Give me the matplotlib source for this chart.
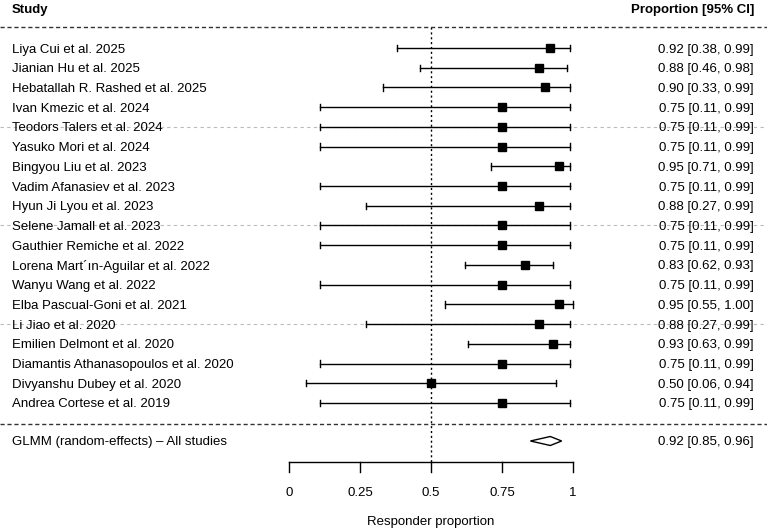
import matplotlib
matplotlib.use("Agg")
import matplotlib.pyplot as plt

studies = ["Liya Cui et al. 2025", "Jianian Hu et al. 2025", "Hebatallah R. Rashed et al. 2025",
           "Ivan Kmezic et al. 2024", "Teodors Talers et al. 2024", "Yasuko Mori et al. 2024",
           "Bingyou Liu et al. 2023", "Vadim Afanasiev et al. 2023", "Hyun Ji Lyou et al. 2023",
           "Selene Jamall et al. 2023", "Gauthier Remiche et al. 2022", "Lorena Mart\u00b4\u0131n-Aguilar et al. 2022",
           "Wanyu Wang et al. 2022", "Elba Pascual-Goni et al. 2021", "Li Jiao et al. 2020",
           "Emilien Delmont et al. 2020", "Diamantis Athanasopoulos et al. 2020", "Divyanshu Dubey et al. 2020",
           "Andrea Cortese et al. 2019"]
est = [0.92, 0.88, 0.90, 0.75, 0.75, 0.75, 0.95, 0.75, 0.88, 0.75, 0.75, 0.83, 0.75, 0.95, 0.88, 0.93, 0.75, 0.50, 0.75]
lo = [0.38, 0.46, 0.33, 0.11, 0.11, 0.11, 0.71, 0.11, 0.27, 0.11, 0.11, 0.62, 0.11, 0.55, 0.27, 0.63, 0.11, 0.06, 0.11]
hi = [0.99, 0.98, 0.99, 0.99, 0.99, 0.99, 0.99, 0.99, 0.99, 0.99, 0.99, 0.93, 0.99, 1.00, 0.99, 0.99, 0.99, 0.94, 0.99]
pooled_label = "GLMM (random-effects) \u2013 All studies"
pooled = (0.92, 0.85, 0.96)
ticks = [0, 0.25, 0.5, 0.75, 1]
tick_labels = ["0", "0.25", "0.5", "0.75", "1"]

plt.rcParams['font.family'] = ['Liberation Sans', 'DejaVu Sans']
W, H = 767, 530
fig = plt.figure(figsize=(W / 100, H / 100), dpi=100)
ax = fig.add_axes([0, 0, 1, 1])
ax.axis('off')
x0, scale = 289.0, 284.0  # pixel of 0 and pixels per unit
ax.set_xlim(-x0 / scale, (W - x0) / scale)
ax.set_ylim(H, 0)
xl, xr = ax.get_xlim()
left_txt = xl + 12 / scale
right_txt = xl + 754 / scale
fs = 9.5
dy = 1.5  # small downward text offset

row0, step = 48.0, 19.72
ys = [row0 + i * step for i in range(len(studies))]

# header
ax.text(left_txt, 9 + dy, "Study", ha='left', va='center', fontsize=fs, fontweight='bold')
ax.text(right_txt, 9 + dy, "Proportion [95% CI]", ha='right', va='center', fontsize=fs, fontweight='bold')

# separators
for ysep in (27, 424):
    ax.plot([xl, xr], [ysep, ysep], color='#333333', lw=1, ls=(0, (3, 2)))

# faint row guides every 5th row
for i in range(4, len(studies), 5):
    ax.plot([xl, xr], [ys[i], ys[i]], color='#bbbbbb', lw=0.8, ls=(0, (3, 3)), zorder=0)

# reference line
ax.plot([0.5, 0.5], [27, 462], color='black', lw=1, ls=(0, (1.5, 2)), zorder=1)

cap = 3.2
for y, s, e, l, h in zip(ys, studies, est, lo, hi):
    ax.plot([l, h], [y, y], color='black', lw=1, zorder=2)
    ax.plot([l, l], [y - cap, y + cap], color='black', lw=1, zorder=2)
    ax.plot([h, h], [y - cap, y + cap], color='black', lw=1, zorder=2)
    ax.plot([e], [y], marker='s', color='black', markersize=5.6, zorder=3)
    ax.text(left_txt, y + dy, s, ha='left', va='center', fontsize=fs)
    ax.text(right_txt, y + dy, f"{e:.2f} [{l:.2f}, {h:.2f}]", ha='right', va='center', fontsize=fs)

# pooled diamond
yp = 441
pe, pl, ph = pooled
ax.fill([pl, pe, ph, pe, pl], [yp, yp - 4.5, yp, yp + 4.5, yp], facecolor='white', edgecolor='black', lw=1, zorder=3)
ax.text(left_txt, yp + dy, pooled_label, ha='left', va='center', fontsize=fs)
ax.text(right_txt, yp + dy, f"{pe:.2f} [{pl:.2f}, {ph:.2f}]", ha='right', va='center', fontsize=fs)

# x axis
yax = 462
ax.plot([ticks[0], ticks[-1]], [yax, yax], color='black', lw=1)
for t, lab in zip(ticks, tick_labels):
    ax.plot([t, t], [yax, yax + 10], color='black', lw=1)
    ax.text(t, 492 + dy, lab, ha='center', va='center', fontsize=fs)
ax.text(0.5, 520 + dy, "Responder proportion", ha='center', va='center', fontsize=fs)

fig.savefig("out.png", dpi=100)
